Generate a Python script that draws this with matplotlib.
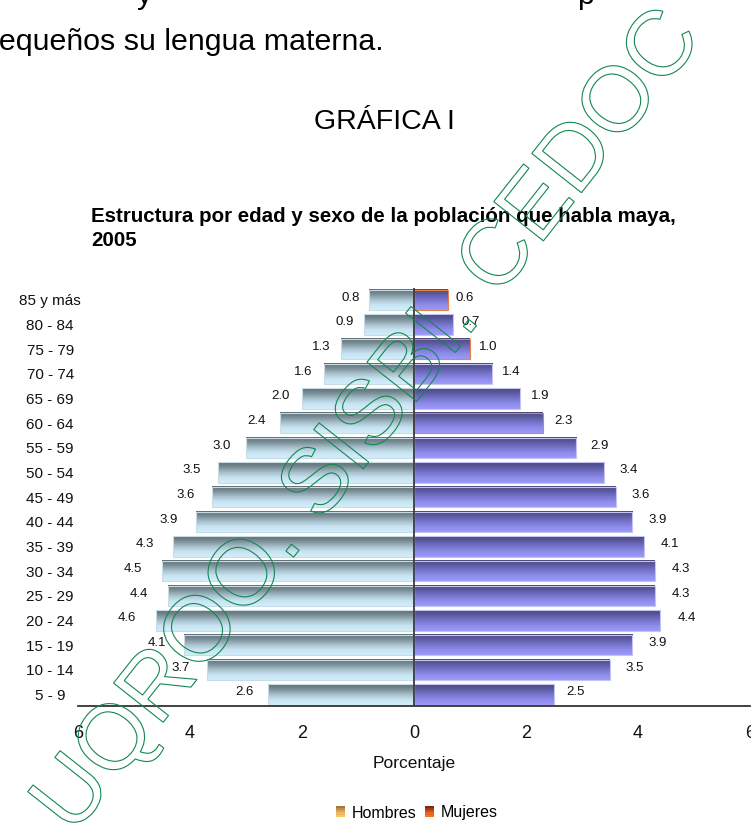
import numpy as np
import matplotlib
matplotlib.use('Agg')
import matplotlib.pyplot as plt
from matplotlib.colors import LinearSegmentedColormap
from matplotlib.patches import Patch, Rectangle, PathPatch
from matplotlib.legend_handler import HandlerBase
from matplotlib.textpath import TextPath
from matplotlib.font_manager import FontProperties
from matplotlib.transforms import Affine2D
from matplotlib.ticker import FuncFormatter

plt.rcParams['font.family'] = ['Liberation Sans', 'DejaVu Sans']

# datos (de arriba hacia abajo)
edades = ['85 y más', '80 - 84', '75 - 79', '70 - 74', '65 - 69', '60 - 64',
          '55 - 59', '50 - 54', '45 - 49', '40 - 44', '35 - 39', '30 - 34',
          '25 - 29', '20 - 24', '15 - 19', '10 - 14', '5 - 9']
hombres = [0.8, 0.9, 1.3, 1.6, 2.0, 2.4, 3.0, 3.5, 3.6, 3.9, 4.3, 4.5, 4.4, 4.6, 4.1, 3.7, 2.6]
mujeres = [0.6, 0.7, 1.0, 1.4, 1.9, 2.3, 2.9, 3.4, 3.6, 3.9, 4.1, 4.3, 4.3, 4.4, 3.9, 3.5, 2.5]
xticks = [-6, -4, -2, 0, 2, 4, 6]


class GradientHandler(HandlerBase):
    # cuadrito de leyenda con degradado (franjas)
    def __init__(self, colors):
        super().__init__()
        self.colors = colors

    def create_artists(self, legend, orig_handle, xdescent, ydescent,
                       width, height, fontsize, trans):
        n = len(self.colors)
        out = []
        for i, c in enumerate(self.colors):
            out.append(Rectangle((-xdescent, -ydescent + height * (n - 1 - i) / n),
                                 width, height / n + 0.3, facecolor=c,
                                 edgecolor='none', transform=trans))
        return out


fig = plt.figure(figsize=(7.51, 8.35), dpi=100)
ax = fig.add_axes([78 / 751, 1 - 706 / 835, 672 / 751, 418.5 / 835])

y = np.arange(len(edades))[::-1]
men_bars = ax.barh(y, [-v for v in hombres], height=0.82, facecolor='none',
                   edgecolor='#c9dbe4', lw=0.8, zorder=2)
women_bars = ax.barh(y, mujeres, height=0.82, facecolor='none',
                     edgecolor='#c4c4f2', lw=0.8, zorder=2)
for i in [0, 2, 5]:
    women_bars[i].set_edgecolor('#e8804a')

grad = np.linspace(0, 1, 64).reshape(-1, 1)
cmap_h = LinearSegmentedColormap.from_list(
    'h', ['#5c6c72', '#7d9099', '#a7c0cc', '#c8e4f2', '#d2eefc'])
cmap_m = LinearSegmentedColormap.from_list(
    'm', ['#48467c', '#5e5ca4', '#7674cc', '#8e8cea', '#9c9af8'])
for bars, cm in [(men_bars, cmap_h), (women_bars, cmap_m)]:
    for bar in bars:
        x0, x1 = sorted([bar.get_x(), bar.get_x() + bar.get_width()])
        y0, y1 = bar.get_y(), bar.get_y() + bar.get_height()
        ax.imshow(grad, cmap=cm, extent=(x0, x1, y0, y1), aspect='auto',
                  interpolation='bilinear', zorder=1)

# etiquetas de valores
for bar, v in zip(men_bars, hombres):
    ax.annotate(f'{v:.1f}', xy=(-v, bar.get_y() + bar.get_height() / 2),
                xytext=(-(7 + 2.8 * v), 2), textcoords='offset pixels',
                ha='right', va='center', fontsize=9.5, color='#111111')
for bar, v in zip(women_bars, mujeres):
    ax.annotate(f'{v:.1f}', xy=(v, bar.get_y() + bar.get_height() / 2),
                xytext=(6 + 2.6 * v, 2), textcoords='offset pixels',
                ha='left', va='center', fontsize=9.5, color='#111111')

ax.axvline(0, color='#3a3a44', lw=1.3, zorder=3)

ax.set_xlim(-6, 6)
ax.set_ylim(-0.47, 16.5)
for s in ['top', 'right', 'left']:
    ax.spines[s].set_visible(False)
ax.spines['bottom'].set_color('#333333')
ax.spines['bottom'].set_linewidth(1.3)

ax.set_xticks(xticks)
ax.xaxis.set_major_formatter(FuncFormatter(lambda v, p: f'{abs(v):.0f}'))
ax.tick_params(axis='x', length=0, pad=13.5, labelsize=13, labelcolor='#111111')
ax.set_yticks(y)
ax.set_yticklabels(edades, fontsize=11, color='#111111')
ax.tick_params(axis='y', length=0, pad=20)
for lab in ax.get_yticklabels():
    lab.set_ha('center')
ax.set_xlabel('Porcentaje', fontsize=12.5, labelpad=10, color='#111111')

# textos de la pagina
fig.text(137 / 751, 1 - 4 / 835, 'y', fontsize=21.9, va='baseline')
fig.text(577 / 751, 1 - 4 / 835, 'p', fontsize=21.9, va='baseline')
fig.text(-17.5 / 751, 1 - 50 / 835, 'pequeños su lengua materna.',
         fontsize=21.9, va='baseline')
fig.text(384 / 751, 1 - 129 / 835, 'GRÁFICA I', fontsize=20.5,
         ha='center', va='baseline')
fig.text(91 / 751, 1 - 222 / 835,
         'Estructura por edad y sexo de la población que habla maya,',
         fontsize=14.8, fontweight='bold', va='baseline')
fig.text(91 / 751, 1 - 246 / 835, '2005', fontsize=14.8, fontweight='bold',
         va='baseline')

# leyenda
h1 = Patch(label='Hombres')
h2 = Patch(label='Mujeres')
fig.legend(handles=[h1, h2], loc='center', bbox_to_anchor=(417 / 751, 1 - 813 / 835),
           ncol=2, frameon=False, fontsize=11.5, handlelength=0.56,
           handleheight=0.62, handletextpad=0.4, columnspacing=0.55, borderpad=0,
           handler_map={h1: GradientHandler(['#a07840', '#c08c48', '#dca458', '#f0b862', '#f8c466']),
                        h2: GradientHandler(['#7a2c10', '#a03a14', '#c8501a', '#e46420', '#f07426'])})

# marca de agua
tp = TextPath((0, 0), 'UQROO. SISBI. CEDOC', size=92,
              prop=FontProperties(family='Liberation Sans'))
wm = PathPatch(tp, transform=Affine2D().rotate_deg(51.7).translate(73, -1.5),
               facecolor='none', edgecolor='#12884e', lw=0.8, zorder=10)
fig.add_artist(wm)

fig.savefig('out.png', dpi=100, facecolor='white')
